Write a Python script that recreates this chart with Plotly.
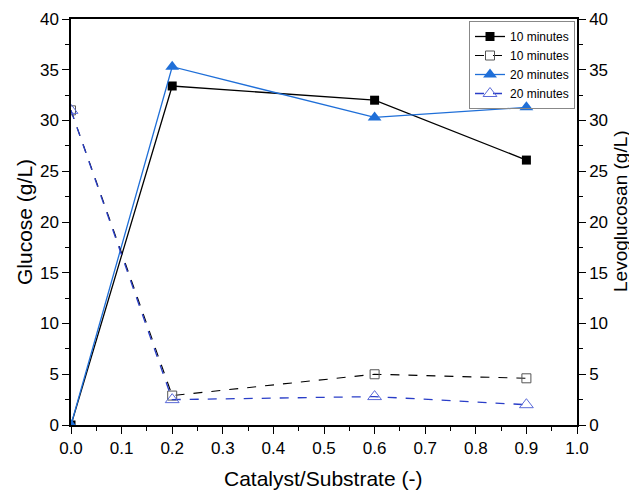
import plotly.graph_objects as go

ratio = [0.0, 0.2, 0.6, 0.9]
glucose_10 = [0.0, 33.4, 32.0, 26.1]
levo_10 = [31.0, 2.9, 5.0, 4.6]
glucose_20 = [0.0, 35.3, 30.3, 31.3]
levo_20 = [31.0, 2.5, 2.8, 2.0]

fig = go.Figure()
fig.add_trace(go.Scatter(x=ratio, y=glucose_10, name="10 minutes", mode="lines+markers",
                         line=dict(color="black", width=1.3),
                         marker=dict(symbol="square", size=9, color="black")))
fig.add_trace(go.Scatter(x=ratio, y=levo_10, name="10 minutes", mode="lines+markers", yaxis="y2",
                         line=dict(color="black", width=1.1, dash="dash"),
                         marker=dict(symbol="square-open", size=9, color="#555555", line=dict(width=1))))
fig.add_trace(go.Scatter(x=ratio, y=glucose_20, name="20 minutes", mode="lines+markers",
                         line=dict(color="#1f6fd8", width=1.3),
                         marker=dict(symbol="triangle-up", size=12, color="#1f6fd8")))
fig.add_trace(go.Scatter(x=ratio, y=levo_20, name="20 minutes", mode="lines+markers", yaxis="y2",
                         line=dict(color="#2a3ec8", width=1.3, dash="dash"),
                         marker=dict(symbol="triangle-up-open", size=12, color="#5a6ad8", line=dict(width=1))))

FONT = "Arial, Liberation Sans, sans-serif"
tick_font = dict(family=FONT, size=17, color="black")
common = dict(showgrid=False, zeroline=False, showline=True, linecolor="black", linewidth=1.5,
              ticks="outside", ticklen=7, tickwidth=1.3, tickcolor="black",
              tickfont=tick_font, automargin=False)

# page has an 8px body margin; figure is sized so plot area lands at x 71..577, y 19..425
OFF = 8
W, H = 637 - OFF, 490 - OFF
pl, pr, pt, pb = 71, 577, 19, 425

fig.update_layout(
    width=W, height=H,
    margin=dict(l=pl - OFF, r=W + OFF - pr, t=pt - OFF, b=H + OFF - pb, autoexpand=False),
    plot_bgcolor="white", paper_bgcolor="white",
    font=dict(family=FONT, color="black"),
    showlegend=True,
    legend=dict(x=(469 - pl) / (pr - pl), y=(pb - 21) / (pb - pt), xanchor="left", yanchor="top",
                bordercolor="#888888", borderwidth=1, bgcolor="rgba(255,255,255,0)",
                font=dict(size=12), tracegroupgap=0, itemwidth=30),
    xaxis=dict(range=[0, 1.0], dtick=0.1, tickformat=".1f", mirror=True,
               minor=dict(dtick=0.05, ticks="outside", ticklen=4, tickcolor="black", tickwidth=1.2),
               **common),
    yaxis=dict(range=[0, 40], dtick=5,
               minor=dict(dtick=2.5, ticks="outside", ticklen=4, tickcolor="black", tickwidth=1.2),
               **common),
    yaxis2=dict(range=[0, 40], dtick=5, overlaying="y", side="right",
                minor=dict(dtick=2.5, ticks="outside", ticklen=4, tickcolor="black", tickwidth=1.2),
                **common),
)

titles = [
    ("Catalyst/Substrate (-)", 323, 478, 0, 21),
    ("Glucose (g/L)", 24, 222, -90, 21),
    ("Levoglucosan (g/L)", 620, 211, -90, 19),
]
for text, px_x, px_y, ang, size in titles:
    fig.add_annotation(text=text, x=(px_x - pl) / (pr - pl), y=(pb - px_y) / (pb - pt),
                       xref="paper", yref="paper", xanchor="center", yanchor="middle",
                       showarrow=False, textangle=ang, font=dict(size=size))
fig.write_html("out.html")
